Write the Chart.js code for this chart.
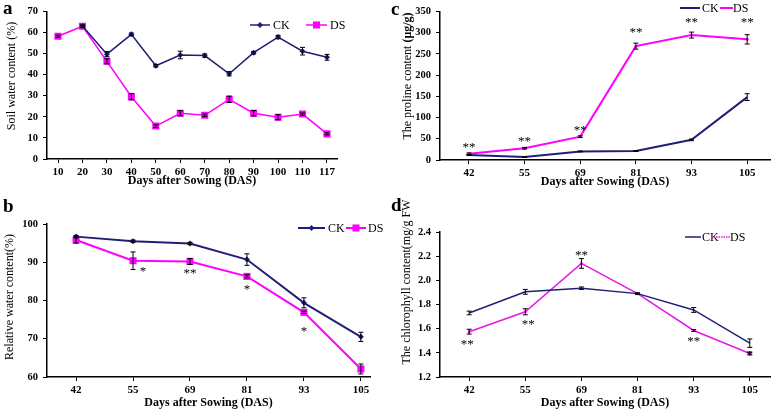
<!DOCTYPE html>
<html>
<head>
<meta charset="utf-8">
<script src="https://cdn.jsdelivr.net/npm/chart.js@4.4.1/dist/chart.umd.min.js"></script>
<style>
    body { margin: 0; background: #fff; width: 783px; height: 410px; overflow: hidden; position: relative; }
    canvas { position: absolute; }
    .tag { position: absolute; font: bold 19px "Liberation Serif", serif; color: #000; line-height: 1; }
</style>
</head>
<body>
<canvas id="chartA" width="390" height="200" style="left:0;top:0"></canvas>
<canvas id="chartC" width="393" height="200" style="left:390px;top:0"></canvas>
<canvas id="chartB" width="390" height="210" style="left:0;top:200px"></canvas>
<canvas id="chartD" width="393" height="210" style="left:390px;top:200px"></canvas>
<div class="tag" style="left:3px;top:-2px">a</div>
<div class="tag" style="left:3px;top:196px">b</div>
<div class="tag" style="left:391px;top:-1px">c</div>
<div class="tag" style="left:391px;top:195px">d</div>
<script>
// a: soil water content
const daysA = ["10", "20", "30", "40", "50", "60", "70", "80", "90", "100", "110", "117"];
const soilCK = [null, 63, 49.7, 59.1, 44.2, 49.3, 49, 40.4, 50.4, 57.8, 51.1, 48.2];
const soilCKErr = [0, 0.5, 1.2, 0.6, 0.6, 1.8, 0.8, 1, 0.6, 0.8, 1.8, 1.4];
const soilDS = [58.2, 62.9, 46.3, 29.5, 15.6, 21.7, 20.7, 28.3, 21.7, 19.8, 21.3, 11.9];
const soilDSErr = [0.5, 0.5, 1.2, 1.5, 0.6, 1.2, 0.6, 1.5, 1.3, 1.2, 0.5, 0.5];

// b, c, d share the sampling days
const daysB = ["42", "55", "69", "81", "93", "105"];

// b: relative water content
const rwcCK = [96.7, 95.5, 94.9, 90.7, 79.4, 70.5];
const rwcCKErr = [0.3, 0.3, 0.3, 1.5, 1.3, 1.2];
const rwcDS = [95.8, 90.4, 90.2, 86.3, 76.9, 62.1];
const rwcDSErr = [0.8, 2.3, 0.8, 0.4, 0.3, 1.3];
const rwcStars = ["", "*", "**", "*", "*", ""];

// c: proline
const proCK = [11.5, 7, 20, 21, 47.5, 148];
const proCKErr = [1, 1, 1, 1, 2, 8];
const proDS = [14.6, 27.7, 55, 268, 294, 284];
const proDSErr = [2, 2, 2, 7, 7, 11];
const proStars = ["**", "**", "**", "**", "**", "**"];

// d: chlorophyll
const chlCK = [1.73, 1.905, 1.935, 1.89, 1.755, 1.48];
const chlCKErr = [0.015, 0.02, 0.01, 0.005, 0.02, 0.035];
const chlDS = [1.575, 1.74, 2.14, 1.89, 1.585, 1.395];
const chlDSErr = [0.02, 0.025, 0.04, 0.005, 0.008, 0.012];
const chlStars = ["**", "**", "**", "", "**", "*"];

const navy = "#1f1f78";
const magenta = "#ff00ff";
const serif = "'Liberation Serif', 'Times New Roman', serif";

function drawMarker(ctx, style, r, x, y, color) {
    if (!style || !r) return;
    ctx.fillStyle = color;
    ctx.beginPath();
    if (style === "rectRot") {
        ctx.moveTo(x, y - r); ctx.lineTo(x + r, y); ctx.lineTo(x, y + r); ctx.lineTo(x - r, y);
    } else if (style === "rect") {
        const s = r * Math.SQRT1_2;
        ctx.rect(x - s, y - s, 2 * s, 2 * s);
    } else {
        ctx.arc(x, y, r, 0, Math.PI * 2);
    }
    ctx.closePath();
    ctx.fill();
}

function overlay(p) {
    return {
        id: "overlay",
        afterDatasetsDraw(chart) {
            const ctx = chart.ctx, xs = chart.scales.x, ys = chart.scales.y;
            ctx.save();
            // error bars
            ctx.strokeStyle = "#000";
            ctx.lineWidth = 1;
            p.series.forEach(s => {
                s.values.forEach((v, i) => {
                    if (v == null || !s.err[i]) return;
                    const x = xs.getPixelForValue(i);
                    const y1 = ys.getPixelForValue(v + s.err[i]);
                    const y2 = ys.getPixelForValue(v - s.err[i]);
                    ctx.beginPath();
                    ctx.moveTo(x, y1); ctx.lineTo(x, y2);
                    ctx.moveTo(x - 2.5, y1); ctx.lineTo(x + 2.5, y1);
                    ctx.moveTo(x - 2.5, y2); ctx.lineTo(x + 2.5, y2);
                    ctx.stroke();
                });
            });
            // significance stars next to DS
            if (p.stars) {
                ctx.fillStyle = "#000";
                ctx.font = "13px " + serif;
                ctx.textAlign = "center";
                ctx.textBaseline = "alphabetic";
                const ds = p.series[1];
                p.stars.forEach((t, i) => {
                    if (!t) return;
                    const off = p.starOff[i];
                    const x = xs.getPixelForValue(i) + off[0];
                    const y = ys.getPixelForValue(ds.values[i]) + off[1];
                    ctx.fillText(t, x, y + 6);
                });
            }
            // legend
            ctx.font = "12px " + serif;
            ctx.textAlign = "left";
            ctx.textBaseline = "middle";
            p.legend.forEach((e, k) => {
                const s = p.series[k];
                ctx.strokeStyle = s.color;
                ctx.lineWidth = s.lw;
                ctx.setLineDash(e.dash || []);
                ctx.beginPath();
                ctx.moveTo(e.x1, e.y); ctx.lineTo(e.x2, e.y);
                ctx.stroke();
                ctx.setLineDash([]);
                drawMarker(ctx, s.style, s.legendR, (e.x1 + e.x2) / 2, e.y, s.color);
                ctx.fillStyle = "#000";
                ctx.fillText(e.text, e.tx, e.y + 1);
            });
            // y axis title
            ctx.translate(p.yTitle.x, p.yTitle.y);
            ctx.rotate(-Math.PI / 2);
            ctx.fillStyle = "#000";
            ctx.textBaseline = "middle";
            const parts = p.yTitle.parts;
            const fonts = parts.map(pt => (pt.bold ? "bold " : "") + "12px " + serif);
            let total = 0;
            parts.forEach((pt, i) => { ctx.font = fonts[i]; total += ctx.measureText(pt.text).width; });
            let cx = -total / 2;
            parts.forEach((pt, i) => {
                ctx.font = fonts[i];
                ctx.fillText(pt.text, cx, 0);
                cx += ctx.measureText(pt.text).width;
            });
            ctx.restore();
        }
    };
}

function makePanel(id, p) {
    const datasets = p.series.map(s => ({
        label: s.label,
        data: s.values.map((v, i) => ({ x: i, y: v })),
        borderColor: s.color,
        backgroundColor: s.color,
        pointBackgroundColor: s.color,
        pointBorderColor: s.color,
        pointBorderWidth: 0,
        pointStyle: s.style || "circle",
        pointRadius: s.r,
        borderWidth: s.lw,
        tension: 0,
    }));
    const axisColor = "#000";
    new Chart(document.getElementById(id), {
        type: "line",
        data: { datasets },
        options: {
            responsive: false,
            animation: false,
            events: [],
            layout: { padding: { left: 0, top: p.area.t, right: p.w - p.area.r, bottom: 0 } },
            plugins: { legend: { display: false }, tooltip: { enabled: false } },
            scales: {
                x: {
                    type: "linear",
                    min: p.xMin,
                    max: p.xMax,
                    afterBuildTicks: s => { s.ticks = p.labels.map((_, i) => ({ value: i })); },
                    afterFit: s => { s.height = p.h - p.area.b; },
                    ticks: {
                        callback: v => p.labels[v],
                        color: "#000",
                        padding: 3,
                        maxRotation: 0,
                        font: { family: serif, size: 11, weight: "bold" },
                    },
                    grid: { drawOnChartArea: false, tickLength: 4, color: axisColor, lineWidth: 1 },
                    border: { color: axisColor, width: 1.5 },
                    title: {
                        display: true,
                        text: "Days after Sowing (DAS)",
                        color: "#000",
                        font: { family: serif, size: 12, weight: "bold", lineHeight: 1.2 },
                        padding: { top: 0, bottom: p.xTitlePad },
                    },
                },
                y: {
                    min: p.yMin,
                    max: p.yMax,
                    afterFit: s => { s.width = p.area.l; },
                    ticks: {
                        stepSize: p.yStep,
                        callback: v => p.yDec ? v.toFixed(p.yDec) : v,
                        color: "#000",
                        padding: 5,
                        font: { family: serif, size: 10.5, weight: "bold" },
                    },
                    grid: { drawOnChartArea: false, tickLength: 4, color: axisColor, lineWidth: 1 },
                    border: { color: axisColor, width: 1.5 },
                },
            },
        },
        plugins: [overlay(p)],
    });
}

makePanel("chartA", {
    w: 390, h: 200,
    area: { l: 47, t: 11, r: 337, b: 159 },
    labels: daysA, xMin: -0.45, xMax: 11.41,
    yMin: 0, yMax: 70, yStep: 10,
    xTitlePad: 12,
    yTitle: { x: 12, y: 76, parts: [{ text: "Soil water content (%)" }] },
    series: [
        { label: "CK", values: soilCK, err: soilCKErr, color: navy, style: "rectRot", r: 3, legendR: 3, lw: 1.5 },
        { label: "DS", values: soilDS, err: soilDSErr, color: magenta, style: "rect", r: 5, legendR: 5, lw: 1.5 },
    ],
    legend: [
        { text: "CK", x1: 250, x2: 270, tx: 273, y: 25 },
        { text: "DS", x1: 306, x2: 327, tx: 330, y: 25 },
    ],
});

makePanel("chartB", {
    w: 390, h: 210,
    area: { l: 47, t: 24, r: 370, b: 177 },
    labels: daysB, xMin: -0.51, xMax: 5.16,
    yMin: 60, yMax: 100, yStep: 10,
    xTitlePad: 0,
    yTitle: { x: 10, y: 97, parts: [{ text: "Relative water content(%)" }] },
    series: [
        { label: "CK", values: rwcCK, err: rwcCKErr, color: navy, style: "rectRot", r: 3, legendR: 3, lw: 2 },
        { label: "DS", values: rwcDS, err: rwcDSErr, color: magenta, style: "rect", r: 5, legendR: 5, lw: 2 },
    ],
    stars: rwcStars,
    starOff: [[0, 0], [10, 8], [0, 10], [0, 11], [0, 17], [0, 0]],
    legend: [
        { text: "CK", x1: 298, x2: 325, tx: 328, y: 28 },
        { text: "DS", x1: 346, x2: 366, tx: 368, y: 28 },
    ],
});

makePanel("chartC", {
    w: 393, h: 200,
    area: { l: 50, t: 8, r: 380, b: 160 },
    labels: daysB, xMin: -0.52, xMax: 5.41,
    yMin: 0, yMax: 350, yStep: 50,
    xTitlePad: 11,
    yTitle: { x: 17.5, y: 76, parts: [{ text: "The proline content " }, { text: "(μg/g)", bold: true }] },
    series: [
        { label: "CK", values: proCK, err: proCKErr, color: navy, style: "circle", r: 0, legendR: 0, lw: 2 },
        { label: "DS", values: proDS, err: proDSErr, color: magenta, style: "circle", r: 1.5, legendR: 0, lw: 2 },
    ],
    stars: proStars,
    starOff: [[0, -9], [0, -9], [0, -9], [0, -16], [0, -15], [0, -19]],
    legend: [
        { text: "CK", x1: 290, x2: 310, tx: 312, y: 8 },
        { text: "DS", x1: 330, x2: 343, tx: 343, y: 8 },
    ],
});

makePanel("chartD", {
    w: 393, h: 210,
    area: { l: 50, t: 32, r: 380, b: 177 },
    labels: daysB, xMin: -0.52, xMax: 5.36,
    yMin: 1.2, yMax: 2.4, yStep: 0.2, yDec: 1,
    xTitlePad: 0,
    yTitle: { x: 17, y: 80, parts: [{ text: "The chlorophyll content(mg/g FW)" }] },
    series: [
        { label: "CK", values: chlCK, err: chlCKErr, color: navy, style: "circle", r: 0, legendR: 0, lw: 1.5 },
        { label: "DS", values: chlDS, err: chlDSErr, color: "#e619e6", style: "circle", r: 1.5, legendR: 0, lw: 1.5 },
    ],
    stars: chlStars,
    starOff: [[-2, 10], [3, 10], [0, -10], [0, 7], [0, 9], [0, 0]],
    legend: [
        { text: "CK", x1: 295, x2: 311, tx: 312, y: 37 },
        { text: "DS", x1: 321, x2: 340, tx: 340, y: 37, dash: [1.5, 1] },
    ],
});
</script>
</body>
</html>
